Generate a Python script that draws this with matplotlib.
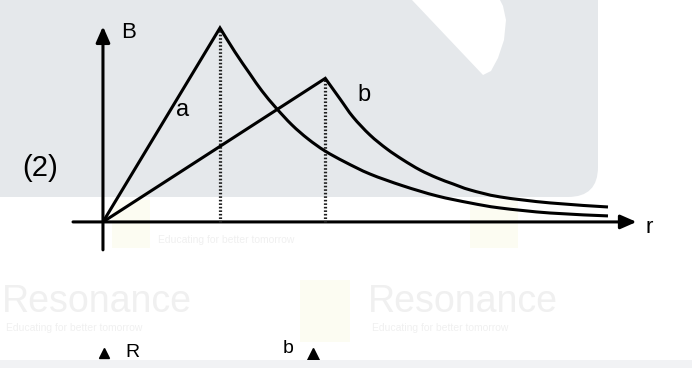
import matplotlib
matplotlib.use("Agg")
import matplotlib.pyplot as plt
from matplotlib.patches import PathPatch, Rectangle, FancyBboxPatch
from matplotlib.path import Path

# ---- data: field B(r) of two conductors, radii a and b ----
radius_a = 1.0
radius_b = 1.9
peak_a = 1.0
peak_b = 0.74

# outside the conductor (r >= radius)
r_out_a = [1.000, 1.128, 1.256, 1.359, 1.479, 1.615, 1.752, 1.897, 2.068,
           2.282, 2.564, 2.855, 3.137, 3.393, 3.821, 4.316]
B_out_a = [1.000, 0.876, 0.763, 0.675, 0.588, 0.500, 0.428, 0.366, 0.309,
           0.247, 0.186, 0.134, 0.098, 0.072, 0.046, 0.031]

r_out_b = [1.900, 2.026, 2.137, 2.282, 2.427, 2.564, 2.709, 2.855, 2.991,
           3.137, 3.393, 3.821, 4.316]
B_out_b = [0.740, 0.634, 0.541, 0.448, 0.376, 0.320, 0.268, 0.227, 0.196,
           0.165, 0.129, 0.098, 0.077]

curve_labels = ["a", "b"]
axis_labels = ["B", "r"]
figure_tag = "(2)"


def field_path(radius, peak, r_out, B_out):
    """Origin -> peak as a straight rise, then a smooth curve through the outer points."""
    verts = [(0.0, 0.0), (radius, peak)]
    codes = [Path.MOVETO, Path.LINETO]
    pts = list(zip(r_out, B_out))
    n = len(pts)
    for i in range(n - 1):
        p0 = pts[i - 1] if i > 0 else pts[i]
        p1, p2 = pts[i], pts[i + 1]
        p3 = pts[i + 2] if i + 2 < n else pts[i + 1]
        c1 = (p1[0] + (p2[0] - p0[0]) / 6, p1[1] + (p2[1] - p0[1]) / 6)
        c2 = (p2[0] - (p3[0] - p1[0]) / 6, p2[1] - (p3[1] - p1[1]) / 6)
        verts += [c1, c2, p2]
        codes += [Path.CURVE4] * 3
    return Path(verts, codes)


# ---- figure ----
W, H, DPI = 692, 368, 100
plt.rcParams["font.family"] = ["Liberation Sans", "DejaVu Sans"]
fig = plt.figure(figsize=(W / DPI, H / DPI), dpi=DPI)
fig.patch.set_facecolor("white")

# background page decoration, laid out in pixel units (top-left origin)
bg = fig.add_axes([0, 0, 1, 1], zorder=0)
bg.set_xlim(0, W)
bg.set_ylim(H, 0)
bg.axis("off")

# light grey panel with rounded lower-right corner
bg.add_patch(FancyBboxPatch((-60, -60), 658, 257, boxstyle="round,pad=0,rounding_size=30",
                            facecolor="#e5e8eb", edgecolor="none", mutation_aspect=1))
# white leaf of the logo cut into the panel
leaf = Path([(412, 0), (483, 75), (491, 71), (498, 58), (504, 40), (506, 20),
             (503, 6), (500, 0), (412, 0)])
bg.add_patch(PathPatch(leaf, facecolor="white", edgecolor="none"))

# faint logo squares and brand text
for (x0, y0, w, h) in [(300, 280, 50, 62), (112, 200, 38, 48), (470, 200, 48, 48)]:
    bg.add_patch(Rectangle((x0, y0), w, h, facecolor="#fcfcf2", edgecolor="none"))
wm_color = "#f0f0f0"
for (x0, y0) in [(2, 312), (368, 312)]:
    bg.text(x0, y0, "Resonance", fontsize=27, color=wm_color, va="baseline")
for (x0, y0) in [(6, 331), (372, 331), (158, 243)]:
    bg.text(x0, y0, "Educating for better tomorrow", fontsize=7.5, color=wm_color,
            va="baseline")

# ---- the graph, drawn in data units ----
ax = fig.add_axes([0, 0, 1, 1], zorder=1)
ax.set_xlim(-0.880, 5.034)
ax.set_ylim(-0.753, 1.144)
ax.axis("off")
ax.patch.set_alpha(0)

lw = 2.2
arrow = dict(arrowstyle="-|>,head_length=0.8,head_width=0.35", lw=lw, color="black",
             mutation_scale=12, shrinkA=0, shrinkB=0)
ax.annotate("", xy=(4.56, 0), xytext=(-0.256, 0), arrowprops=arrow, zorder=4)
ax.annotate("", xy=(0, 1.008), xytext=(0, -0.144), arrowprops=arrow, zorder=4)

# B(r) for each conductor: linear inside, falling off outside
for radius, peak, r_out, B_out in [(radius_a, peak_a, r_out_a, B_out_a),
                                   (radius_b, peak_b, r_out_b, B_out_b)]:
    ax.add_patch(PathPatch(field_path(radius, peak, r_out, B_out), fill=False,
                           edgecolor="black", lw=lw, joinstyle="miter",
                           capstyle="butt", zorder=5))

# dotted drops at r = a and r = b
for rr, bb in [(radius_a, peak_a), (radius_b, peak_b)]:
    ax.plot([rr, rr], [0, bb], color="#1e1e1e", lw=2.3, linestyle=(0, (0.5, 0.6)), zorder=4)

# labels
ax.text(0.684, 0.577, curve_labels[0], fontsize=17, ha="center", va="center", zorder=6)
ax.text(2.235, 0.655, curve_labels[1], fontsize=17, ha="center", va="center", zorder=6)
ax.text(0.215, 0.975, axis_labels[0], fontsize=16, ha="center", va="center", zorder=6)
ax.text(4.665, -0.028, axis_labels[1], fontsize=16, ha="center", va="center", zorder=6)
ax.text(-0.538, 0.278, figure_tag, fontsize=21, ha="center", va="center", zorder=6)

# start of the next diagram, cut off by the page edge
ax.plot([0.009], [-0.676], marker="^", color="black", markersize=7, linestyle="none", zorder=2)
ax.text(0.248, -0.672, "R", fontsize=14, ha="center", va="center", zorder=2)
ax.text(1.581, -0.655, "b", fontsize=14, ha="center", va="center", zorder=2)
ax.plot([1.795], [-0.682], marker="^", color="black", markersize=8, linestyle="none", zorder=2)

# bottom strip of the page, over the cut-off diagram
top = fig.add_axes([0, 0, 1, 8 / H], zorder=2)
top.set_facecolor("#f1f2f4")
top.set_xticks([])
top.set_yticks([])
for s in top.spines.values():
    s.set_visible(False)

fig.savefig("out.png", dpi=DPI, facecolor=fig.get_facecolor())
